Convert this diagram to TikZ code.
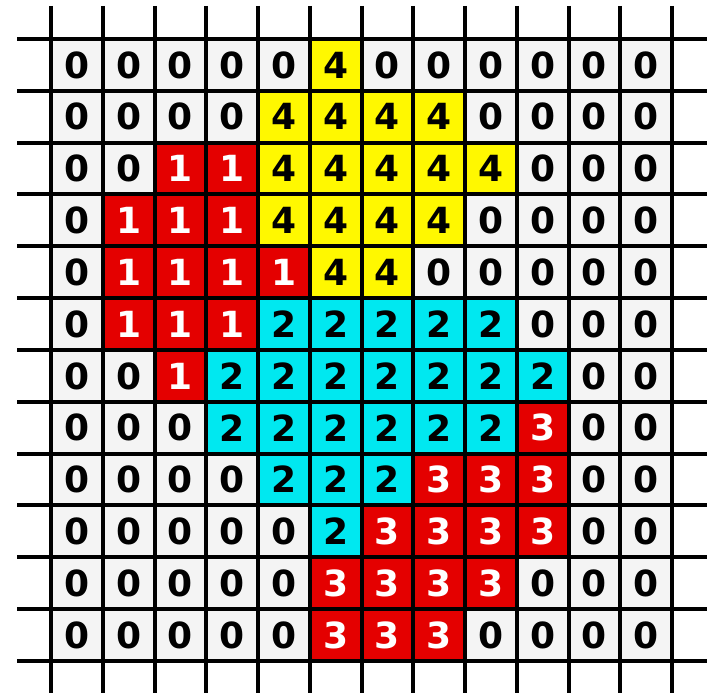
\documentclass[tikz,border=0pt]{standalone}
\usepackage{fontspec}
\setmainfont{DejaVu Sans}
\definecolor{cellwhite}{RGB}{244,244,244}
\definecolor{cellred}{RGB}{228,0,0}
\definecolor{cellyellow}{RGB}{255,248,0}
\definecolor{cellcyan}{RGB}{0,232,240}
\tikzset{
  cellbase/.style={minimum width=51.75pt, minimum height=51.83pt, inner sep=0pt, outer sep=0pt,
    font=\fontsize{36}{36}\selectfont\bfseries},
  cell0/.style={cellbase, fill=cellwhite, text=black},
  cell1/.style={cellbase, fill=cellred, text=white},
  cell2/.style={cellbase, fill=cellcyan, text=black},
  cell3/.style={cellbase, fill=cellred, text=white},
  cell4/.style={cellbase, fill=cellyellow, text=black},
  gridline/.style={line width=4pt, black}
}
\begin{document}
\begin{tikzpicture}[x=1pt, y=-1pt]
\fill[white] (0,0) rectangle (708,695);
\useasboundingbox (0,0) rectangle (708,695);
\foreach \r [count=\i] in {
  {0,0,0,0,0,4,0,0,0,0,0,0},
  {0,0,0,0,4,4,4,4,0,0,0,0},
  {0,0,1,1,4,4,4,4,4,0,0,0},
  {0,1,1,1,4,4,4,4,0,0,0,0},
  {0,1,1,1,1,4,4,0,0,0,0,0},
  {0,1,1,1,2,2,2,2,2,0,0,0},
  {0,0,1,2,2,2,2,2,2,2,0,0},
  {0,0,0,2,2,2,2,2,2,3,0,0},
  {0,0,0,0,2,2,2,3,3,3,0,0},
  {0,0,0,0,0,2,3,3,3,3,0,0},
  {0,0,0,0,0,3,3,3,3,0,0,0},
  {0,0,0,0,0,3,3,3,0,0,0,0}}
{
  \foreach \v [count=\j] in \r {
    \node[cell\v] (c-\i-\j) at ({51+(\j-0.5)*51.75}, {39+(\i-0.5)*51.83}) {\v};
  }
}
\foreach \k in {0,...,12} {
  \draw[gridline] ({51+\k*51.75}, 6) -- ({51+\k*51.75}, 693);
  \draw[gridline] (17, {39+\k*51.83}) -- (707, {39+\k*51.83});
}
\end{tikzpicture}
\end{document}
